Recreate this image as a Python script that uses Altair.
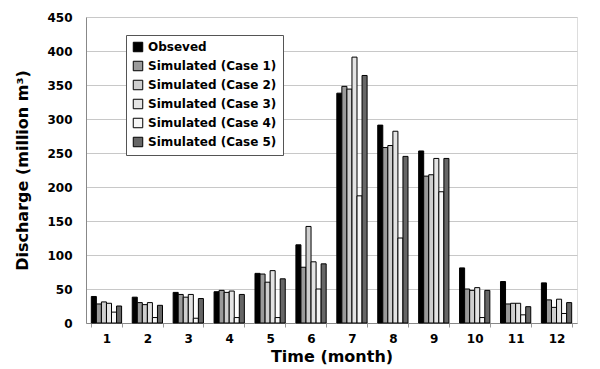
import altair as alt
import pandas as pd

months = ["1", "2", "3", "4", "5", "6", "7", "8", "9", "10", "11", "12"]
series = ["Obseved", "Simulated (Case 1)", "Simulated (Case 2)",
          "Simulated (Case 3)", "Simulated (Case 4)", "Simulated (Case 5)"]
observed = [39, 38, 45, 46, 73, 115, 338, 291, 253, 81, 61, 59]
case1 = [28, 30, 42, 48, 72, 82, 348, 258, 216, 50, 28, 34]
case2 = [31, 27, 38, 45, 60, 142, 344, 261, 218, 48, 29, 23]
case3 = [29, 30, 42, 47, 77, 90, 391, 282, 242, 52, 29, 35]
case4 = [16, 8, 7, 8, 8, 50, 187, 125, 193, 8, 12, 14]
case5 = [25, 26, 36, 42, 65, 87, 364, 245, 242, 48, 24, 30]
fills = ["#000000", "#9a9a9a", "#cfcfcf", "#e4e4e4", "#f7f7f7", "#666666"]

rows = []
for s, vals in zip(series, [observed, case1, case2, case3, case4, case5]):
    for m, v in zip(months, vals):
        rows.append({"Month": m, "Series": s, "Discharge": v})
df = pd.DataFrame(rows)

font = "DejaVu Sans"

chart = alt.Chart(df).mark_bar(stroke="black", strokeWidth=1).encode(
    x=alt.X("Month:N", sort=months,
            scale=alt.Scale(paddingInner=0.26, paddingOuter=0.13),
            axis=alt.Axis(title="Time (month)", labelAngle=0, labelFont=font,
                          labelFontWeight="bold", labelFontSize=12, labelColor="black",
                          titleFont=font, titleFontSize=16, titleFontWeight="bold",
                          titleColor="black", titlePadding=4, labelPadding=6,
                          tickBand="extent", tickSize=4, tickColor="#999999",
                          domainColor="#888888", grid=False)),
    xOffset=alt.XOffset("Series:N", sort=series),
    y=alt.Y("Discharge:Q", scale=alt.Scale(domain=[0, 450]),
            axis=alt.Axis(title="Discharge (million m³)", values=list(range(0, 451, 50)),
                          labelFont=font, labelFontWeight="bold", labelFontSize=12,
                          labelColor="black", titleFont=font, titleFontSize=16,
                          titleFontWeight="bold", titleColor="black", titlePadding=16,
                          labelPadding=14, ticks=False, domainColor="#888888",
                          gridColor="#c8c8c8", gridWidth=1)),
    color=alt.Color("Series:N", sort=series,
                    scale=alt.Scale(domain=series, range=fills),
                    legend=alt.Legend(title=None, orient="none", legendX=40, legendY=18,
                                      labelFont=font, labelFontWeight="bold",
                                      labelFontSize=12, labelColor="black",
                                      symbolType="square", symbolSize=90,
                                      symbolStrokeColor="black", symbolStrokeWidth=1,
                                      rowPadding=5, padding=6, strokeColor="#555555",
                                      fillColor="white", labelLimit=300)),
).properties(
    width=491, height=306,
    autosize=alt.AutoSizeParams(type="none"),
    padding={"left": 86, "top": 17, "right": 23, "bottom": 46},
).configure_view(stroke=None).configure(background="white")

chart.save("out.html", embed_options={"renderer": "svg", "actions": False})
